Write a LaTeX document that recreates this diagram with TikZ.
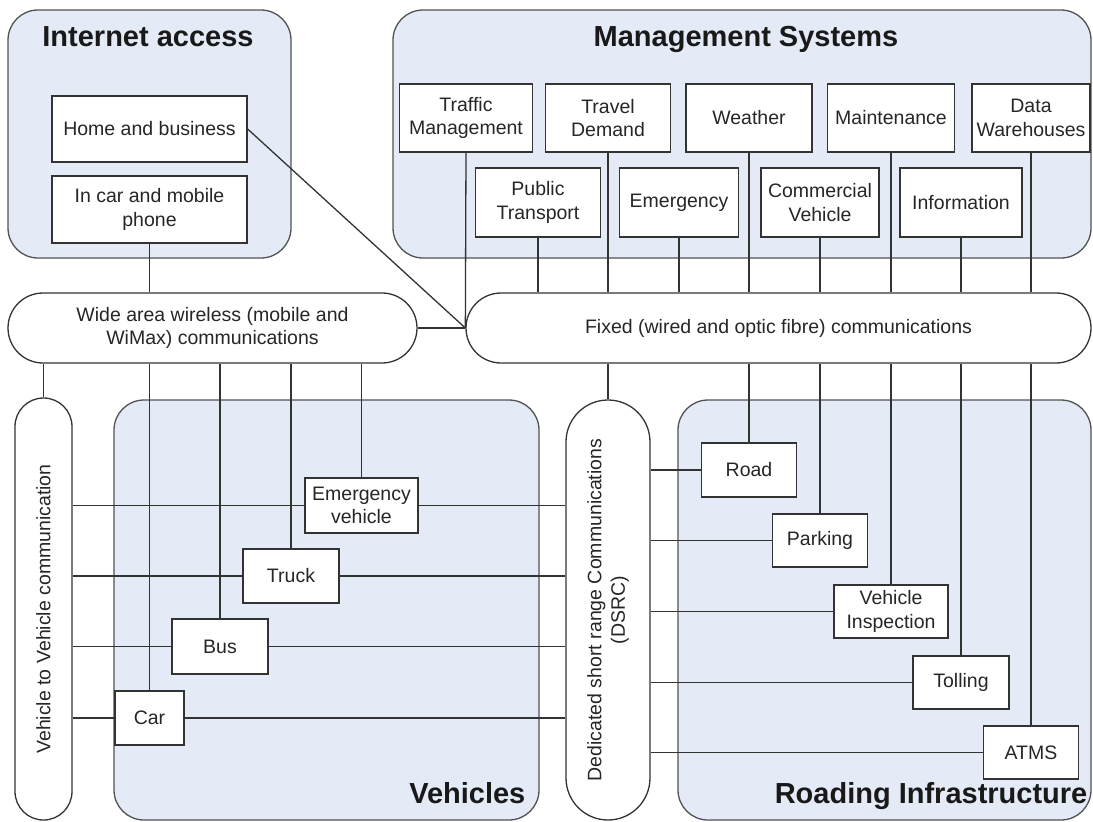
\documentclass[tikz,border=0pt]{standalone}
\usepackage{fontspec}
\setmainfont{Liberation Sans}
\definecolor{grpfill}{HTML}{E4EAF6}
\definecolor{wire}{HTML}{333333}

\begin{document}
\begin{tikzpicture}[x=1pt, y=-1pt, line width=1.3pt,
  group/.style={draw=wire!85, fill=grpfill, rounded corners=30pt, inner sep=0pt},
  unit/.style={draw=wire, fill=white, align=center, inner sep=0pt, text=black!85, font=\fontsize{19.5}{23.5}\selectfont},
  pill/.style={unit, rounded corners=#1},
  caption/.style={inner sep=0pt, text=black!85, align=center, font=\fontsize{19.5}{23.5}\selectfont},
  title/.style={inner sep=0pt, text=black!90, font=\fontsize{29}{34}\selectfont\bfseries},
  link/.style={draw=wire}]
\useasboundingbox (0,0) rectangle (1093,822);

\node[group, minimum width=283pt, minimum height=248pt] (netgrp) at (149.5,134) {};
\node[group, minimum width=698pt, minimum height=248pt] (mgmtgrp) at (742,134) {};
\node[group, minimum width=425pt, minimum height=420pt] (vehgrp) at (326.5,610) {};
\node[group, minimum width=413pt, minimum height=420pt] (roadgrp) at (884.5,610) {};

\node[title, anchor=base] (nettitle) at (148,46) {Internet access};
\node[title, anchor=base] (mgmttitle) at (746,46) {Management Systems};
\node[title, anchor=base east] (vehtitle) at (526,803) {Vehicles};
\node[title, anchor=base east] (roadtitle) at (1088,803) {Roading Infrastructure};

\node[unit, minimum width=195pt, minimum height=66pt] (home) at (149.5,129) {Home and business};
\node[unit, minimum width=195pt, minimum height=67pt] (incar) at (149.5,209.5) {In car and mobile\\phone};
\node[pill=35pt, minimum width=409pt, minimum height=70pt] (wide) at (212.5,328) {Wide area wireless (mobile and\\WiMax) communications};
\node[pill=35pt, minimum width=625pt, minimum height=70pt] (fixed) at (778.5,328) {Fixed (wired and optic fibre) communications};

\node[unit, minimum width=133pt, minimum height=68pt] (traffic) at (466,118) {Traffic\\Management};
\node[unit, minimum width=125pt, minimum height=68pt] (travel) at (608,118) {Travel\\Demand};
\node[unit, minimum width=126pt, minimum height=68pt] (weather) at (749,118) {Weather};
\node[unit, minimum width=127pt, minimum height=68pt] (maint) at (891,118) {Maintenance};
\node[unit, minimum width=118pt, minimum height=68pt] (data) at (1031,118) {Data\\Warehouses};
\node[unit, minimum width=125pt, minimum height=69pt] (pubtrans) at (538,202.5) {Public\\Transport};
\node[unit, minimum width=119pt, minimum height=69pt] (emerg) at (679,202.5) {Emergency};
\node[unit, minimum width=118pt, minimum height=69pt] (commveh) at (820,202.5) {Commercial\\Vehicle};
\node[unit, minimum width=122pt, minimum height=69pt] (info) at (961,202.5) {Information};

\node[pill=28.5pt, minimum width=57pt, minimum height=422pt] (v2v) at (43.5,609) {};
\node[caption, rotate=90] (v2vlbl) at (v2v) {Vehicle to Vehicle communication};
\node[pill=42pt, minimum width=84pt, minimum height=420pt] (dsrc) at (608,610) {};
\node[caption, rotate=90] (dsrclbl) at (dsrc) {Dedicated short range Communications\\(DSRC)};

\node[unit, minimum width=113pt, minimum height=55pt] (emveh) at (361.5,505.5) {Emergency\\vehicle};
\node[unit, minimum width=96pt, minimum height=54pt] (truck) at (291,576) {Truck};
\node[unit, minimum width=96pt, minimum height=55pt] (bus) at (220,646.5) {Bus};
\node[unit, minimum width=69pt, minimum height=54pt] (car) at (149.5,718) {Car};

\node[unit, minimum width=95pt, minimum height=54pt] (road) at (749,470) {Road};
\node[unit, minimum width=95pt, minimum height=53pt] (parking) at (820,540.5) {Parking};
\node[unit, minimum width=114pt, minimum height=53pt] (vinsp) at (891,611.5) {Vehicle\\Inspection};
\node[unit, minimum width=96pt, minimum height=53pt] (tolling) at (961,682.5) {Tolling};
\node[unit, minimum width=95pt, minimum height=53pt] (atms) at (1031,752.5) {ATMS};

\draw[link] (incar.south) -- (incar.south |- wide.north);
\draw[link] (home.east) -- (fixed.west);
\draw[link] (wide.east) -- (fixed.west);
\draw[link] (traffic.south) -- (fixed.west);
\foreach \m in {pubtrans,travel,emerg,weather,commveh,maint,info,data}
  \draw[link] (\m.south) -- (\m.south |- fixed.north);
\foreach \r in {road,parking,vinsp,tolling,atms}
  \draw[link] (\r.north) -- (\r.north |- fixed.south);
\draw[link] (dsrc.north) -- (dsrc.north |- fixed.south);
\foreach \v in {v2v,car,bus,truck,emveh}
  \draw[link] (\v.north) -- (\v.north |- wide.south);
\foreach \v in {emveh,truck,bus,car} {
  \draw[link] (v2v.east |- \v.west) -- (\v.west);
  \draw[link] (\v.east) -- (dsrc.west |- \v.east);
}
\foreach \r in {road,parking,vinsp,tolling,atms}
  \draw[link] (dsrc.east |- \r.west) -- (\r.west);
\end{tikzpicture}
\end{document}
